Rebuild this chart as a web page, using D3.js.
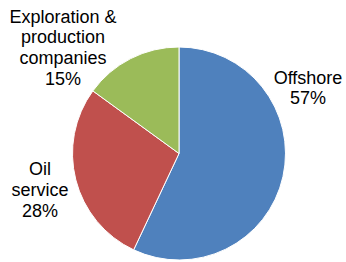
<!DOCTYPE html>
<html lang="en">
<head>
    <meta charset="UTF-8">
    <title>Pie Chart</title>
    <script src="https://cdn.jsdelivr.net/npm/d3@7"></script>
    <style>
        body { margin: 0; background: #fff; }
        text { font-family: "Liberation Sans", Arial, sans-serif; font-size: 18px; fill: #000; }
    </style>
</head>
<body>
    <div id="chart"></div>
    <script>
        const categories = ["Offshore", "Oil service", "Exploration & production companies"];
        const values = [57, 28, 15];
        const labelLines = [["Offshore"], ["Oil", "service"], ["Exploration &", "production", "companies"]];
        const colors = ["#4f81bd", "#c0504d", "#9bbb59"];

        const width = 346, height = 262;
        const cx = 179, cy = 153.5, radius = 106.5;
        // label block centres (x) and first baseline (y), relative to pie centre
        const labelPos = [
            { dx: 129, dy: -70 },
            { dx: -139, dy: 21.5 },
            { dx: -116, dy: -131 }
        ];
        const lineH = 20.8;

        const data = categories.map((c, i) => ({ name: c, value: values[i], lines: labelLines[i] }));

        const svg = d3.select("#chart")
            .append("svg")
            .attr("width", width)
            .attr("height", height);

        const g = svg.append("g")
            .attr("transform", `translate(${cx},${cy})`);

        const pie = d3.pie()
            .sort(null)
            .value(d => d.value);

        const arc = d3.arc()
            .innerRadius(0)
            .outerRadius(radius);

        const color = d3.scaleOrdinal()
            .domain(categories)
            .range(colors);

        const arcs = pie(data);

        g.selectAll("path")
            .data(arcs)
            .enter()
            .append("path")
            .attr("d", arc)
            .attr("fill", d => color(d.data.name))
            .attr("stroke", "#fff")
            .attr("stroke-width", 1);

        const total = d3.sum(values);

        arcs.forEach((d, i) => {
            const p = labelPos[i];
            const t = g.append("text")
                .attr("text-anchor", "middle")
                .attr("x", p.dx)
                .attr("y", p.dy);
            const lines = d.data.lines.concat([Math.round(d.data.value / total * 100) + "%"]);
            lines.forEach((l, j) => {
                t.append("tspan")
                    .attr("x", p.dx)
                    .attr("y", p.dy + j * lineH)
                    .text(l);
            });
        });
    </script>
</body>
</html>
